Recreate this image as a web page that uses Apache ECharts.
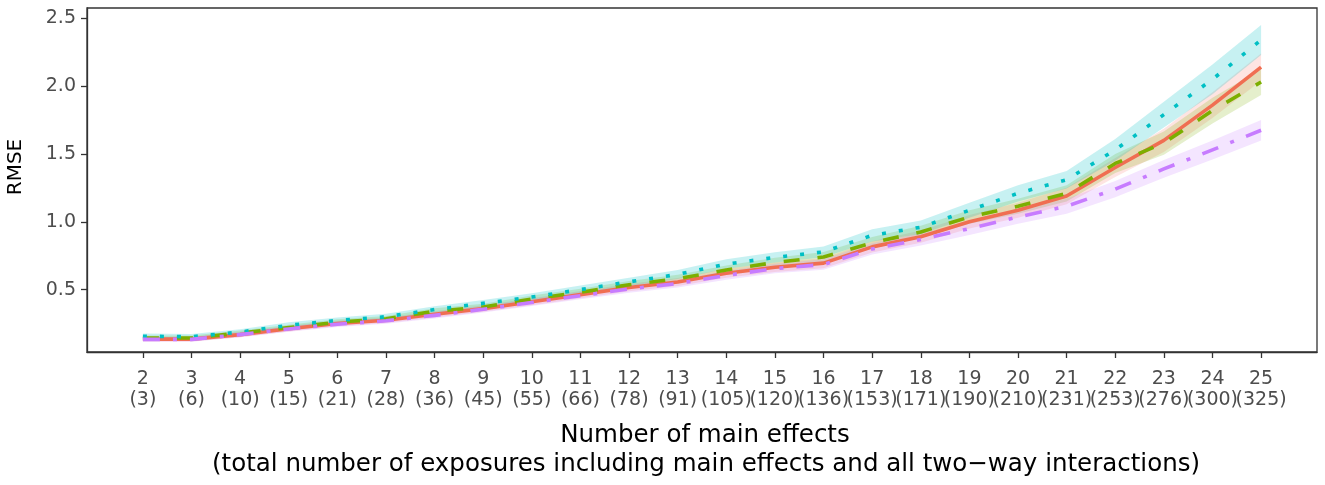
<!DOCTYPE html>
<html>
<head>
<meta charset="utf-8">
<script src="https://cdn.jsdelivr.net/npm/echarts@6/dist/echarts.min.js"></script>
<style>
html,body{margin:0;padding:0;background:#fff;}
#chart{width:1325px;height:485px;}
</style>
</head>
<body>
<div id="chart"></div>
<script>
// ---- data ----
const mainEffects = [2,3,4,5,6,7,8,9,10,11,12,13,14,15,16,17,18,19,20,21,22,23,24,25];
const totalLabels = ["(3)","(6)","(10)","(15)","(21)","(28)","(36)","(45)","(55)","(66)","(78)","(91)","(105)","(120)","(136)","(153)","(171)","(190)","(210)","(231)","(253)","(276)","(300)","(325)"];
const yTicks = [0.5,1.0,1.5,2.0,2.5];

const redVals   = [.135,.135,.168,.212,.250,.274,.318,.360,.410,.463,.515,.556,.620,.665,.695,.815,.890,1.000,1.085,1.190,1.400,1.600,1.860,2.140];
const redHi     = [.153,.153,.187,.232,.271,.295,.341,.384,.436,.490,.543,.586,.653,.700,.733,.857,.935,1.050,1.140,1.250,1.470,1.685,1.955,2.240];
const redLo     = [.117,.117,.149,.192,.229,.253,.295,.336,.384,.436,.487,.526,.587,.630,.657,.773,.845,.950,1.030,1.130,1.330,1.515,1.765,2.040];

const greenVals = [.143,.143,.180,.220,.260,.285,.340,.372,.430,.480,.536,.580,.645,.700,.740,.845,.925,1.035,1.115,1.210,1.430,1.580,1.820,2.030];
const greenHi   = [.161,.161,.199,.240,.281,.306,.363,.396,.456,.507,.564,.610,.678,.735,.778,.887,.970,1.085,1.170,1.270,1.500,1.665,1.915,2.125];
const greenLo   = [.125,.125,.161,.200,.239,.264,.317,.348,.404,.453,.508,.550,.612,.665,.702,.803,.880,.985,1.060,1.150,1.360,1.495,1.725,1.935];

const cyanVals  = [.156,.153,.187,.237,.273,.300,.353,.399,.445,.500,.557,.612,.688,.737,.778,.900,.960,1.085,1.210,1.310,1.530,1.790,2.050,2.340];
const cyanHi    = [.176,.173,.207,.259,.295,.322,.378,.424,.473,.530,.587,.645,.723,.775,.818,.945,1.010,1.140,1.270,1.375,1.610,1.885,2.160,2.450];
const cyanLo    = [.136,.133,.167,.215,.251,.278,.328,.374,.417,.470,.527,.579,.653,.699,.738,.855,.910,1.030,1.150,1.245,1.450,1.695,1.940,2.230];

const purpleVals= [.133,.133,.168,.210,.245,.270,.310,.355,.405,.455,.505,.545,.605,.655,.685,.800,.870,.950,1.035,1.115,1.240,1.390,1.530,1.675];
const purpleHi  = [.151,.151,.187,.230,.266,.291,.333,.379,.431,.482,.533,.575,.638,.690,.723,.842,.915,.998,1.085,1.170,1.300,1.455,1.600,1.750];
const purpleLo  = [.115,.115,.149,.190,.224,.249,.287,.331,.379,.428,.477,.515,.572,.620,.647,.758,.825,.902,.985,1.060,1.180,1.325,1.460,1.600];

// ---- build ----
const FONT = '"DejaVu Sans", "Liberation Sans", sans-serif';
const RED = '#F8766D', RED_LINE = '#F06E52', GREEN = '#7CAE00', CYAN = '#00BFC4', PURPLE = '#C77CFF';
const X_MIN = 0.85, X_MAX = 26.15;

function pairs(vals){ return mainEffects.map((x,i)=>[x, vals[i]]); }

function ribbon(lo, hi, color, op){
  return {
    type:'custom', silent:true, z:1, clip:true,
    data: mainEffects.map((x,i)=>[x, lo[i], hi[i]]),
    encode:{x:0, y:[1,2]},
    renderItem: function(params, api){
      if (params.dataIndex !== 0) return null;
      const pts = [];
      for (let i=0;i<mainEffects.length;i++) pts.push(api.coord([mainEffects[i], hi[i]]));
      for (let i=mainEffects.length-1;i>=0;i--) pts.push(api.coord([mainEffects[i], lo[i]]));
      return {type:'polygon', shape:{points:pts}, style:{fill:color, opacity:op}};
    }
  };
}

function line(vals, color, dash){
  return {
    type:'line', data: pairs(vals), showSymbol:false, z:3, silent:true,
    lineStyle:{color:color, width:3.6, type:dash, cap:'butt', join:'round'}
  };
}

function xLabelFormatter(v){
  const i = mainEffects.indexOf(Math.round(v));
  return i < 0 ? '' : mainEffects[i] + '\n' + totalLabels[i];
}

// labels split over two coincident bottom axes so neighbouring (overlapping) labels are not auto-hidden
const evenEffects = mainEffects.filter((x,i)=>i%2===0);
const oddEffects  = mainEffects.filter((x,i)=>i%2===1);
const labelStyle = {showMinLabel:true, showMaxLabel:true, hideOverlap:false, margin:16, color:'#4D4D4D',
  fontFamily:FONT, fontSize:19, lineHeight:21.5, formatter:xLabelFormatter};

const chart = echarts.init(document.getElementById('chart'), null, {renderer:'canvas'});
chart.setOption({
  animation:false,
  backgroundColor:'#ffffff',
  grid:{left:87, right:8, top:8, bottom:133, show:true, borderColor:'#333333', borderWidth:1.3, containLabel:false, outerBoundsMode:'none'},
  xAxis:[{
    type:'value', min:X_MIN, max:X_MAX, position:'bottom',
    splitLine:{show:false},
    axisLine:{show:true, onZero:false, lineStyle:{color:'#333333', width:1.3}},
    axisTick:{show:true, length:6, customValues: mainEffects, lineStyle:{color:'#333333', width:1.3}},
    axisLabel:Object.assign({customValues: evenEffects}, labelStyle)
  },{
    type:'value', min:X_MIN, max:X_MAX, position:'bottom', offset:0,
    splitLine:{show:false},
    axisLine:{show:false},
    axisTick:{show:false},
    axisLabel:Object.assign({customValues: oddEffects}, labelStyle)
  }],
  yAxis:{
    type:'value', min:0.04, max:2.576,
    splitLine:{show:false},
    axisLine:{show:true, onZero:false, lineStyle:{color:'#333333', width:1.3}},
    axisTick:{show:true, length:6, customValues: yTicks, lineStyle:{color:'#333333', width:1.3}},
    axisLabel:{customValues: yTicks, showMinLabel:true, showMaxLabel:true, margin:11, color:'#4D4D4D', fontFamily:FONT, fontSize:19,
      formatter: function(v){ return v.toFixed(1); }}
  },
  graphic:[
    {type:'text', x:16, y:167, rotation:Math.PI/2, style:{text:'RMSE', fontFamily:FONT, fontSize:20, fill:'#000', align:'center', verticalAlign:'middle'}},
    {type:'text', x:705, y:436, style:{text:'Number of main effects', fontFamily:FONT, fontSize:24.5, fill:'#000', align:'center', verticalAlign:'middle'}},
    {type:'text', x:706, y:465, style:{text:'(total number of exposures including main effects and all two\u2212way interactions)', fontFamily:FONT, fontSize:24.5, fill:'#000', align:'center', verticalAlign:'middle'}}
  ],
  series:[
    ribbon(redLo, redHi, RED, 0.2),
    ribbon(greenLo, greenHi, GREEN, 0.2),
    ribbon(cyanLo, cyanHi, CYAN, 0.22),
    ribbon(purpleLo, purpleHi, PURPLE, 0.2),
    line(redVals, RED_LINE, 'solid'),
    line(greenVals, GREEN, [16,18]),
    line(cyanVals, CYAN, [4,13]),
    line(purpleVals, PURPLE, [17,13,4,13])
  ]
});
</script>
</body>
</html>
